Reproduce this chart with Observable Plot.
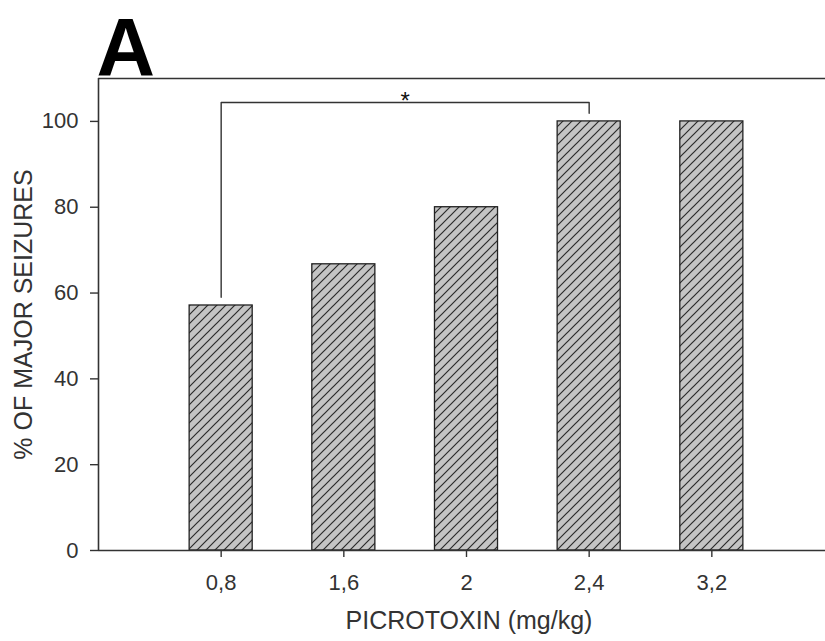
<!DOCTYPE html>
<html>
<head>
<meta charset="utf-8">
<script src="https://cdn.jsdelivr.net/npm/d3@7"></script>
<script src="https://cdn.jsdelivr.net/npm/@observablehq/plot@0.6"></script>
<style>
  html, body { margin: 0; padding: 0; background: #fff; overflow: hidden; }
  #chart { position: relative; width: 825px; height: 641px; }
</style>
</head>
<body>
<div id="chart"></div>
<script>
// ---- data ----
const panelLabel = "A";
const doses = ["0,8", "1,6", "2", "2,4", "3,2"];
const seizures = [57.1, 66.7, 80, 100, 100];
const yTicks = [0, 20, 40, 60, 80, 100];
const xTitle = "PICROTOXIN (mg/kg)";
const yTitle = "% OF MAJOR SEIZURES";
const sigLabel = "*";
const sigFrom = "0,8";
const sigTo = "2,4";

// ---- derived table ----
const rows = doses.map((d, i) => ({dose: d, pos: i + 1, value: seizures[i]}));
const posOf = d => doses.indexOf(d) + 1;
const halfW = 0.257;
const p1 = posOf(sigFrom), p2 = posOf(sigTo);
const bracket = [
  {x: p1, y: 59.0},
  {x: p1, y: 104.4},
  {x: p2, y: 104.4},
  {x: p2, y: 101.9}
];

const ink = "#333";
const font = "'Liberation Sans', Arial, sans-serif";

const plot = Plot.plot({
  width: 825,
  height: 641,
  marginLeft: 98,
  marginRight: 0,
  marginTop: 78,
  marginBottom: 91,
  style: {fontFamily: font, background: "#fff", color: ink},
  x: {type: "linear", domain: [0, 6], range: [98, 834]},
  y: {domain: [0, 110]},
  marks: [
    Plot.rectY(rows, {
      x1: d => d.pos - halfW,
      x2: d => d.pos + halfW,
      y1: 0,
      y2: "value",
      fill: "url(#hatch)",
      stroke: "#222",
      strokeWidth: 1.3
    }),
    Plot.line(bracket, {x: "x", y: "y", stroke: ink, strokeWidth: 1.4}),
    Plot.text([sigLabel], {
      x: (p1 + p2) / 2, y: 106.3,
      text: d => d, fontSize: 24, fill: "#111", lineAnchor: "middle", dy: 7
    }),
    // frame lines
    Plot.ruleY([0], {stroke: ink, strokeWidth: 1.6}),
    Plot.ruleY([110], {stroke: ink, strokeWidth: 1.6}),
    Plot.ruleX([0], {stroke: ink, strokeWidth: 1.6}),
    Plot.axisY({
      ticks: yTicks, tickSize: 8, tickPadding: 12, fontSize: 22,
      stroke: ink, fill: ink, label: null, strokeWidth: 1.4
    }),
    Plot.axisX({
      ticks: rows.map(d => d.pos), tickFormat: p => doses[p - 1],
      tickSize: 7, tickPadding: 17, fontSize: 22,
      stroke: ink, fill: ink, label: null, strokeWidth: 1.4
    }),
    Plot.text([xTitle], {
      frameAnchor: "bottom", text: d => d, fontSize: 25, fill: ink,
      textAnchor: "middle", lineAnchor: "middle", dy: 70, dx: 7
    }),
    Plot.text([yTitle], {
      frameAnchor: "left", text: d => d, fontSize: 25, fill: ink,
      textAnchor: "middle", rotate: -90, lineAnchor: "middle", dx: -75
    }),
    Plot.text([panelLabel], {
      frameAnchor: "top-left", text: d => d, fontSize: 81, fontWeight: "bold",
      fill: "#000", textAnchor: "start", lineAnchor: "bottom", dx: -2, dy: -4
    })
  ]
});

// hatch pattern definition
const ns = "http://www.w3.org/2000/svg";
const defs = document.createElementNS(ns, "defs");
defs.innerHTML = `
  <pattern id="hatch" patternUnits="userSpaceOnUse" width="9" height="9">
    <rect width="9" height="9" fill="#c4c4c4"></rect>
    <path d="M-1,1 L1,-1 M0,9 L9,0 M8,10 L10,8" stroke="#2a2a2a" stroke-width="1.2"></path>
  </pattern>`;
plot.insertBefore(defs, plot.firstChild);

document.getElementById("chart").appendChild(plot);
</script>
</body>
</html>
